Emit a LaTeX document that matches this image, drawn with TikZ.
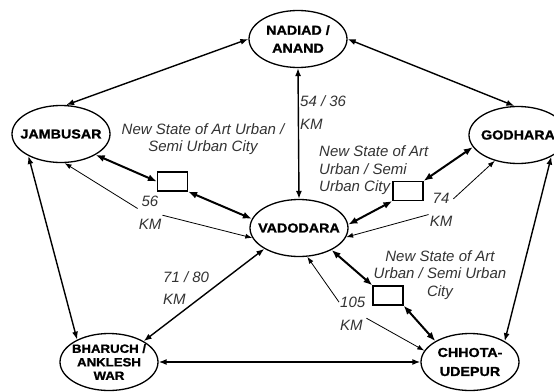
\documentclass[tikz,border=0pt]{standalone}
\usepackage{fontspec}
\setmainfont{Liberation Sans}
\newfontfamily\cityfont[FakeStretch=1.1,FakeBold=1.2]{Liberation Sans}
\usetikzlibrary{shapes.geometric,arrows.meta}
\begin{document}
\begin{tikzpicture}
[x=1pt,y=-1pt,color=black,
 city/.style={ellipse,draw,line width=1.3pt,minimum width=98pt,minimum height=57pt,
   inner xsep=-30pt,inner ysep=0pt,align=center,font=\cityfont\bfseries\fontsize{13}{18}\selectfont},
 site/.style={rectangle,draw,line width=1.2pt,minimum width=30pt,minimum height=19pt,inner sep=0pt},
 note/.style={align=center,inner sep=1pt,text=black!80,font=\itshape\fontsize{15}{17.5}\selectfont},
 dist/.style={note,font=\itshape\fontsize{15}{22.5}\selectfont},
 road/.style={line width=1.4pt,{Latex[length=8pt,width=6pt]}-{Latex[length=8pt,width=6pt]}},
 link/.style={line width=2pt,{Latex[length=9pt,width=7pt]}-{Latex[length=9pt,width=7pt]}},
 km/.style={line width=0.8pt,-{Latex[length=7pt,width=5pt]}}]
\useasboundingbox[fill=white] (0,0) rectangle (554,391);
\node [city] (nad) at (298,39) {NADIAD /\\ANAND};
\node [city] (jam) at (61,134) {JAMBUSAR};
\node [city] (god) at (518,135) {GODHARA};
\node [city] (vad) at (299,228) {VADODARA};
\node [city,font=\cityfont\bfseries\fontsize{12}{13.5}\selectfont] (bha) at (109,362) {BHARUCH /\\ANKLESH\\WAR};
\node [city,font=\cityfont\bfseries\fontsize{13}{19}\selectfont] (chh) at (470,362) {CHHOTA-\\UDEPUR};
\node [site] (b1) at (172.5,181.5) {};
\node [site] (b2) at (408,191) {};
\node [site] (b3) at (388,295.5) {};
\node [note] (t1) at (203,139) {New State of Art Urban /\\Semi Urban City};
\node [note,align=left,anchor=west] (t2) at (318,170.5) {New State of Art\\Urban / Semi\\Urban City};
\node [note] (t3) at (440,275) {New State of Art\\Urban / Semi Urban\\City};
\node [dist,align=left,anchor=west] (k54) at (299,112.5) {54 / 36\\KM};
\node [dist] (k56) at (150,213) {56\\KM};
\node [dist] (k74) at (441,210) {74\\KM};
\node [dist,align=left,anchor=west] (k71) at (162,288) {71 / 80\\KM};
\node [dist,align=left,anchor=west] (k105) at (339,314) {105\\KM};
\draw [road] (jam.80) -- (nad.west);
\draw [road] (nad.east) -- (god.97);
\draw [road] (nad.south) -- (vad.north);
\draw [road] (jam.-146) -- (bha.145);
\draw [road] (god.-33) -- (chh.31);
\draw [road] (bha.east) -- (chh.west);
\draw [road] (bha.31) -- (vad.-149);
\draw [link] (jam.-31) -- (b1.west);
\draw [link] (b1.south east) -- (vad.169);
\draw [link] (vad.4) -- (b2.south west);
\draw [link] (b2.north east) -- (god.-165);
\draw [link] (vad.-34) -- (b3.north west);
\draw [link] (b3.south east) -- (chh.149);
\draw [km] (k56.160) -- (jam.-83);
\draw [km] (k56.-10) -- (vad.-168);
\draw [km] (k74.-160) -- (vad.-11);
\draw [km] (k74.42) -- (god.-132);
\draw [km] (k105.139) -- (vad.-74);
\draw [km] (k105.-17) -- (chh.166);
\end{tikzpicture}
\end{document}
